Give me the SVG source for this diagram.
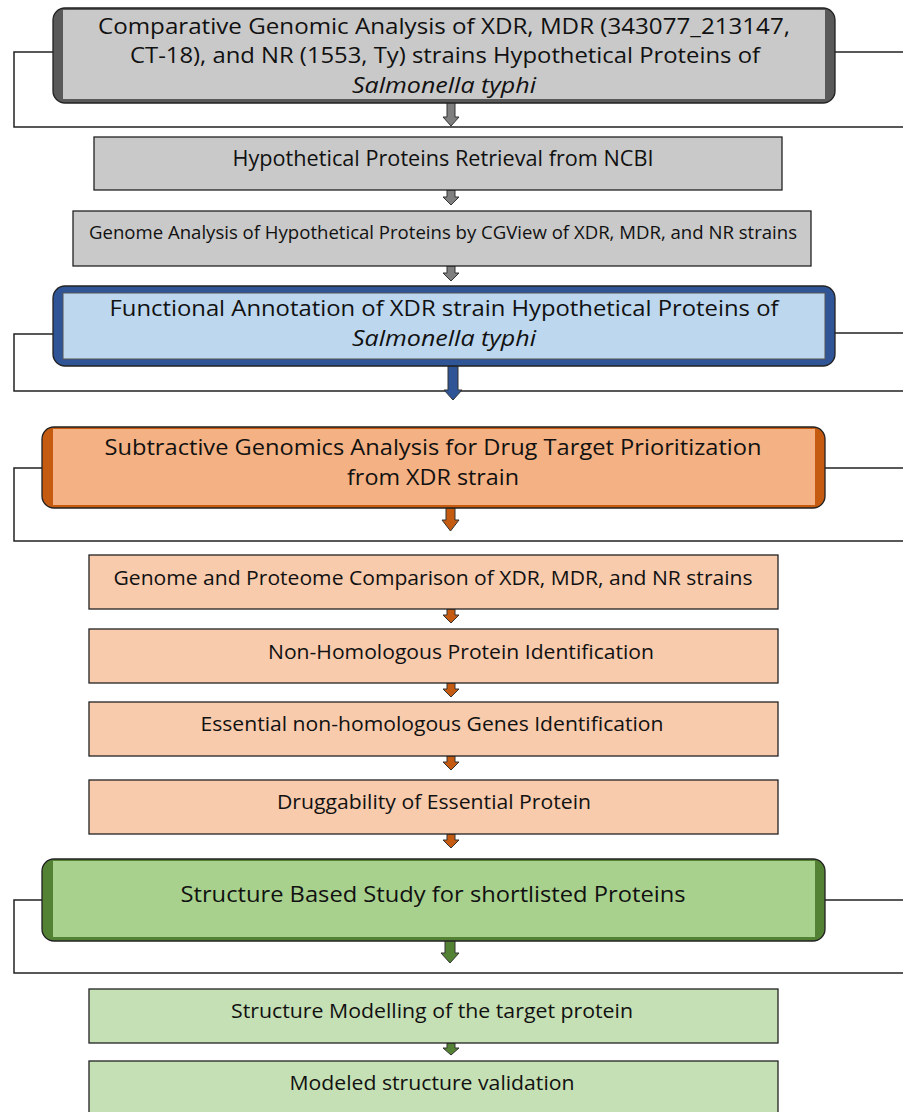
<svg xmlns="http://www.w3.org/2000/svg" width="903" height="1112" viewBox="0 0 903 1112">
<style>
text{font-family:"Open Sans","Noto Sans","Liberation Sans",sans-serif;fill:#111;text-anchor:middle}
.t22{font-size:22px}
.t21{font-size:21px}
.t20{font-size:20px}
.t19{font-size:19px}
.it{font-style:italic}
.br{fill:none;stroke:#222;stroke-width:1.5}
.sb{stroke:#222;stroke-width:1.3}
.gray{fill:#c9c9c9}
.grayd{fill:#595959}
.org{fill:#f8cbad}
.grn{fill:#c5e0b4}
.arr{stroke:#333;stroke-width:1}
</style>
<g id="connectors">
<path class="br" d="M53 52H14V127H910M835 52H910"/>
<path class="br" d="M53 334H14V391H910M835 333H910"/>
<path class="br" d="M42 468H14V541H910M825 468H910"/>
<path class="br" d="M42 900H14V973H910M825 900H910"/>
<path class="arr" fill="#7f7f7f" d="M447 102H455V117H459L451 126L443 117H447Z"/>
<path class="arr" fill="#7f7f7f" d="M447 190H455V197H459L451 205L443 197H447Z"/>
<path class="arr" fill="#7f7f7f" d="M447 266H455V273H459L451 281L443 273H447Z"/>
<path class="arr" fill="#2f5597" d="M448 366H458V390H462L453 400L444 390H448Z"/>
<path class="arr" fill="#c55a11" d="M446 508H455V520H459L450.5 531L442 520H446Z"/>
<path class="arr" fill="#c55a11" d="M447 609H455V615H459L451 623L443 615H447Z"/>
<path class="arr" fill="#c55a11" d="M447 683H455V689H459L451 697L443 689H447Z"/>
<path class="arr" fill="#c55a11" d="M447 756H455V762H459L451 770L443 762H447Z"/>
<path class="arr" fill="#c55a11" d="M447 834H455V840H459L451 848L443 840H447Z"/>
<path class="arr" fill="#548235" d="M445 940H455V953H459L450 963L441 953H445Z"/>
<path class="arr" fill="#548235" d="M447 1043H455V1048H459L451 1055L443 1048H447Z"/>
</g>
<g id="n1">
<rect x="53" y="8" width="782" height="95" rx="12" class="grayd sb"/>
<rect x="63" y="10" width="762" height="89" class="gray"/>
<text class="t22" x="444" y="34" textLength="692" lengthAdjust="spacingAndGlyphs">Comparative Genomic Analysis of XDR, MDR (343077_213147,</text>
<text class="t22" x="445" y="63" textLength="630" lengthAdjust="spacingAndGlyphs">CT-18), and NR (1553, Ty) strains Hypothetical Proteins of</text>
<text class="t22 it" x="444" y="93" textLength="184" lengthAdjust="spacingAndGlyphs">Salmonella typhi</text>
</g>
<g id="n2">
<rect x="94" y="137" width="688" height="53" class="gray sb"/>
<text class="t21" x="443" y="166" textLength="421" lengthAdjust="spacingAndGlyphs">Hypothetical Proteins Retrieval from NCBI</text>
</g>
<g id="n3">
<rect x="73" y="211" width="738" height="55" class="gray sb"/>
<text class="t19" x="443" y="239" textLength="708" lengthAdjust="spacingAndGlyphs">Genome Analysis of Hypothetical Proteins by CGView of XDR, MDR, and NR strains</text>
</g>
<g id="n4">
<rect x="53" y="286" width="782" height="80" rx="12" fill="#2f5597" class="sb"/>
<rect x="63" y="293" width="762" height="66" fill="#bdd7ee" stroke="#555" stroke-width="1"/>
<text class="t22" x="444" y="316" textLength="669" lengthAdjust="spacingAndGlyphs">Functional Annotation of XDR strain Hypothetical Proteins of</text>
<text class="t22 it" x="444" y="346" textLength="184" lengthAdjust="spacingAndGlyphs">Salmonella typhi</text>
</g>
<g id="n5">
<rect x="42" y="427" width="783" height="81" rx="12" fill="#c55a11" class="sb"/>
<rect x="53" y="429" width="762" height="76" fill="#f4b183"/>
<text class="t22" x="433" y="455" textLength="657" lengthAdjust="spacingAndGlyphs">Subtractive Genomics Analysis for Drug Target Prioritization</text>
<text class="t22" x="433" y="485" textLength="172" lengthAdjust="spacingAndGlyphs">from XDR strain</text>
</g>
<g id="n6">
<rect x="89" y="555" width="689" height="54" class="org sb"/>
<text class="t20" x="433" y="585" textLength="639" lengthAdjust="spacingAndGlyphs">Genome and Proteome Comparison of XDR, MDR, and NR strains</text>
</g>
<g id="n7">
<rect x="89" y="629" width="689" height="54" class="org sb"/>
<text class="t20" x="461" y="659" textLength="386" lengthAdjust="spacingAndGlyphs">Non-Homologous Protein Identification</text>
</g>
<g id="n8">
<rect x="89" y="702" width="689" height="54" class="org sb"/>
<text class="t20" x="432" y="731" textLength="463" lengthAdjust="spacingAndGlyphs">Essential non-homologous Genes Identification</text>
</g>
<g id="n9">
<rect x="89" y="780" width="689" height="54" class="org sb"/>
<text class="t20" x="434" y="809" textLength="314" lengthAdjust="spacingAndGlyphs">Druggability of Essential Protein</text>
</g>
<g id="n10">
<rect x="42" y="859" width="783" height="82" rx="12" fill="#548235" class="sb"/>
<rect x="53" y="861" width="762" height="76" fill="#a9d18e"/>
<text class="t22" x="433" y="902" textLength="505" lengthAdjust="spacingAndGlyphs">Structure Based Study for shortlisted Proteins</text>
</g>
<g id="n11">
<rect x="89" y="989" width="689" height="54" class="grn sb"/>
<text class="t20" x="432" y="1018" textLength="402" lengthAdjust="spacingAndGlyphs">Structure Modelling of the target protein</text>
</g>
<g id="n12">
<rect x="89" y="1061" width="689" height="60" class="grn sb"/>
<text class="t20" x="432" y="1090" textLength="285" lengthAdjust="spacingAndGlyphs">Modeled structure validation</text>
</g>
</svg>
